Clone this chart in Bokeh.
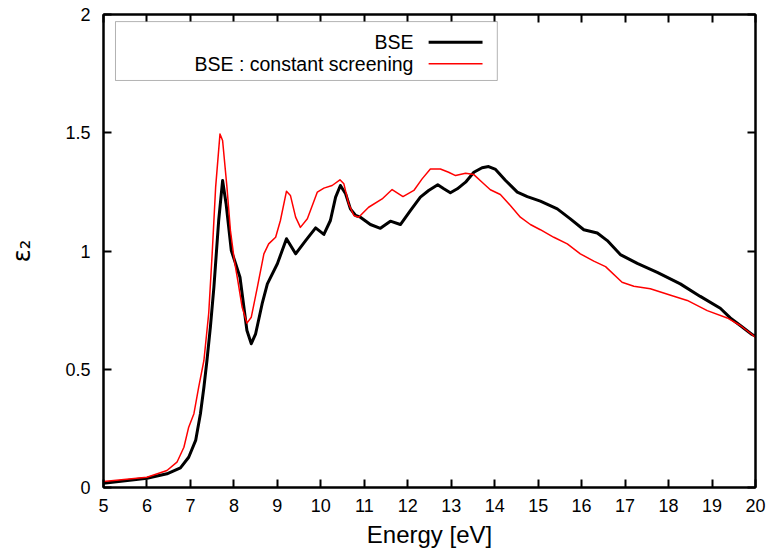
from bokeh.plotting import figure
from bokeh.models import (LinearAxis, FixedTicker, BoxAnnotation, Label, Arrow,
                          Range1d, CustomJSTickFormatter)
from bokeh.embed import file_html
from bokeh.resources import INLINE

# ---- data ----
energy_bse = [5.0, 6.0, 6.46, 6.77, 6.96, 7.12, 7.23, 7.31, 7.38, 7.46, 7.54, 7.65, 7.74,
              7.82, 7.94, 8.04, 8.14, 8.23, 8.30, 8.40, 8.50, 8.65, 8.77, 9.00, 9.21,
              9.42, 9.65, 9.88, 10.07, 10.22, 10.34, 10.45, 10.57, 10.68, 10.80, 10.91,
              11.14, 11.37, 11.60, 11.83, 12.06, 12.29, 12.48, 12.69, 12.83, 12.98,
              13.14, 13.33, 13.52, 13.71, 13.86, 14.02, 14.25, 14.52, 14.75, 15.05,
              15.44, 15.74, 16.05, 16.36, 16.59, 16.89, 17.28, 17.74, 18.27, 18.73,
              19.19, 19.42, 19.65, 19.92, 20.0]
eps2_bse = [0.018, 0.039, 0.058, 0.083, 0.128, 0.199, 0.312, 0.424, 0.537, 0.68, 0.847,
            1.129, 1.298, 1.20, 1.002, 0.946, 0.889, 0.762, 0.664, 0.608, 0.65, 0.777,
            0.861, 0.946, 1.052, 0.988, 1.044, 1.098, 1.07, 1.129, 1.228, 1.277, 1.242,
            1.178, 1.15, 1.143, 1.112, 1.096, 1.126, 1.112, 1.171, 1.228, 1.256, 1.28,
            1.263, 1.246, 1.263, 1.291, 1.333, 1.352, 1.357, 1.345, 1.298, 1.249, 1.23,
            1.211, 1.178, 1.136, 1.09, 1.076, 1.044, 0.985, 0.948, 0.91, 0.861, 0.808,
            0.758, 0.717, 0.685, 0.647, 0.64]

energy_cs = [5.0, 6.0, 6.46, 6.69, 6.85, 6.96, 7.08, 7.19, 7.31, 7.42, 7.50, 7.58, 7.68,
             7.74, 7.84, 7.92, 8.01, 8.09, 8.19, 8.30, 8.40, 8.54, 8.69, 8.80, 8.96,
             9.07, 9.21, 9.30, 9.42, 9.53, 9.69, 9.92, 10.07, 10.26, 10.44, 10.53,
             10.64, 10.76, 10.87, 11.10, 11.41, 11.64, 11.89, 12.14, 12.33, 12.52,
             12.75, 12.94, 13.10, 13.33, 13.52, 13.71, 13.90, 14.13, 14.36, 14.59,
             14.82, 15.05, 15.36, 15.67, 15.97, 16.28, 16.55, 16.93, 17.20, 17.58,
             18.12, 18.43, 18.89, 19.35, 19.65, 19.92, 20.0]
eps2_cs = [0.025, 0.043, 0.072, 0.107, 0.17, 0.255, 0.312, 0.424, 0.537, 0.735, 0.988,
           1.27, 1.495, 1.467, 1.27, 1.087, 0.96, 0.875, 0.762, 0.695, 0.72, 0.847,
           0.988, 1.03, 1.058, 1.129, 1.253, 1.235, 1.143, 1.10, 1.136, 1.249, 1.266,
           1.277, 1.301, 1.284, 1.20, 1.15, 1.143, 1.185, 1.22, 1.26, 1.23, 1.256,
           1.305, 1.347, 1.347, 1.333, 1.319, 1.329, 1.323, 1.291, 1.259, 1.239, 1.192,
           1.143, 1.112, 1.09, 1.058, 1.03, 0.988, 0.957, 0.934, 0.868, 0.851, 0.84,
           0.809, 0.791, 0.748, 0.717, 0.685, 0.647, 0.635]

x_ticks = [5, 6, 7, 8, 9, 10, 11, 12, 13, 14, 15, 16, 17, 18, 19, 20]
y_ticks = [0, 0.5, 1, 1.5, 2]
y_tick_labels = ["0", "0.5", "1", "1.5", "2"]
series_names = ["BSE", "BSE : constant screening"]

FONT = "Liberation Sans"

p = figure(width=770, height=556, output_backend="svg", toolbar_location=None,
           x_range=Range1d(5, 20), y_range=Range1d(0, 2),
           min_border_left=103, min_border_right=15, min_border_top=14,
           min_border_bottom=69)
p.grid.visible = False
p.outline_line_color = "black"
p.outline_line_width = 2
p.background_fill_color = "white"
p.border_fill_color = "white"

def style_axis(ax, ticks, show_labels):
    ax.ticker = FixedTicker(ticks=ticks)
    ax.major_tick_in = 8
    ax.major_tick_out = 0
    ax.minor_tick_line_color = None
    ax.axis_line_width = 2
    ax.major_tick_line_width = 2
    ax.axis_line_color = "black"
    ax.major_tick_line_color = "black"
    ax.major_label_text_font = FONT
    ax.major_label_text_font_size = "18px"
    ax.major_label_text_color = "black"
    if not show_labels:
        ax.formatter = CustomJSTickFormatter(code="return '';")
        ax.major_label_standoff = 0

style_axis(p.xaxis[0], x_ticks, True)
style_axis(p.yaxis[0], y_ticks, True)
p.xaxis[0].major_label_standoff = 11
p.yaxis[0].major_label_standoff = 13
p.yaxis[0].major_label_overrides = {t: s for t, s in zip(y_ticks, y_tick_labels)}

p.xaxis[0].axis_label = "Energy [eV]"
p.xaxis[0].axis_label_text_font = FONT
p.xaxis[0].axis_label_text_font_style = "normal"
p.xaxis[0].axis_label_text_font_size = "24px"
p.xaxis[0].axis_label_text_color = "black"
p.xaxis[0].axis_label_standoff = 6

p.yaxis[0].axis_label = "ε₂"
p.yaxis[0].axis_label_text_font = "DejaVu Sans"
p.yaxis[0].axis_label_text_font_style = "normal"
p.yaxis[0].axis_label_text_font_size = "24px"
p.yaxis[0].axis_label_text_color = "black"
p.yaxis[0].axis_label_standoff = 26

top_ax = LinearAxis()
style_axis(top_ax, x_ticks, False)
p.add_layout(top_ax, "above")
right_ax = LinearAxis()
style_axis(right_ax, y_ticks, False)
p.add_layout(right_ax, "right")

p.line(energy_bse, eps2_bse, line_color="black", line_width=3, line_join="round")
p.line(energy_cs, eps2_cs, line_color="#ff0000", line_width=1.5, line_join="round")

# ---- legend (gnuplot style: text right-aligned, sample on the right) ----
p.add_layout(BoxAnnotation(left=5.276, right=14.06, top=1.970, bottom=1.721,
                           fill_color="white", fill_alpha=1.0,
                           line_color="black", line_width=1))
leg_y = [1.883, 1.792]
leg_colors = ["black", "#ff0000"]
leg_widths = [3, 1.5]
for name, yy, c, w in zip(series_names, leg_y, leg_colors, leg_widths):
    p.add_layout(Label(x=12.13, y=yy, text=name, text_align="right",
                       text_baseline="middle", text_font=FONT,
                       text_font_size="19.5px", text_color="black"))
    p.add_layout(Arrow(end=None, x_start=12.48, x_end=13.72, y_start=yy, y_end=yy,
                       line_color=c, line_width=w))

open("out.html", "w").write(file_html(p, INLINE))
